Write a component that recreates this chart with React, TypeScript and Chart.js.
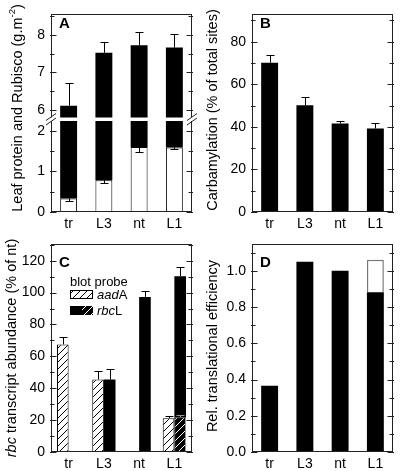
import React, { useEffect, useRef } from 'react';
import { Chart, registerables } from 'chart.js';

Chart.register(...registerables);

// ---------------- data ----------------
const categories = ['tr', 'L3', 'nt', 'L1'];

// Panel A: leaf protein (total) and Rubisco, g.m-2
const leafProtein = [6.12, 7.52, 7.72, 7.66];
const leafProteinErr = [0.59, 0.3, 0.35, 0.37];
const rubisco = [0.33, 0.78, 1.6, 1.59];
const rubiscoErr = [0.05, 0.07, 0.12, 0.04];
const aUpperTicks = [6, 7, 8];
const aUpperMinor = [6.5, 7.5, 8.5];
const aLowerTicks = [0, 1, 2];
const aLowerMinor = [0.5, 1.5];

// Panel B: carbamylation, % of total sites
const carbamylation = [70.1, 50.1, 41.6, 39.2];
const carbamylationErr = [3.7, 3.8, 1.3, 2.7];
const bTicks = [0, 20, 40, 60, 80];
const bMinor = [10, 30, 50, 70, 90];

// Panel C: rbc transcript abundance, % of nt
const aadA = [67.5, 45.5, null, 21.2];
const aadAErr = [4.8, 5.2, null, 1.5];
const rbcL = [null, 45.5, 97.3, 110.3];
const rbcLErr = [null, 6.8, 3.5, 5.5];
const rbcLShared = [null, null, null, 21.8];
const rbcLSharedErr = [null, null, null, 1.3];
const cTicks = [0, 20, 40, 60, 80, 100, 120];
const cMinor = [10, 30, 50, 70, 90, 110, 130];

// Panel D: relative translational efficiency
const translEff = [0.365, 1.05, 1.0, 0.882];
const translEffUpper = [null, null, null, 1.061];
const dTicks = [0, 0.2, 0.4, 0.6, 0.8, 1.0];
const dMinor = [0.1, 0.3, 0.5, 0.7, 0.9, 1.1];

// ---------------- layout ----------------
const W = 400;
const H = 471;
const FONT = "'Liberation Sans', Arial, Helvetica, sans-serif";
const AXIS = '#222';
const TICK_SIZE = 14;
const TITLE_SIZE = 14.5;

type Area = { left: number; right: number; top: number; bottom: number };
type Seg = { t: string; s?: 'i' | 'sup' };
type ErrSpec = { ds: number; vals: (number | null)[]; errs: (number | null)[]; dir: 1 | -1; color?: string };
type Spec = {
  area: Area;
  min: number;
  max: number;
  ticks: number[];
  minor: number[];
  fmt: (v: number) => string;
  datasets: any[];
  showX: boolean;
  xStacked?: boolean;
  catPct: number;
  barPct: number;
  errors: ErrSpec[];
  sides: { top: boolean; bottom: boolean; left: boolean; right: boolean };
  extra?: (ctx: CanvasRenderingContext2D) => void;
};

const areaAUp: Area = { left: 51, right: 192, top: 5, bottom: 117.5 };
const areaALow: Area = { left: 51, right: 192, top: 121, bottom: 212 };
const areaB: Area = { left: 252, right: 393, top: 5, bottom: 212 };
const areaC: Area = { left: 51, right: 192, top: 244, bottom: 452 };
const areaD: Area = { left: 252, right: 393, top: 244, bottom: 452 };

function makeHatch(ctx: CanvasRenderingContext2D, bg: string, fg: string) {
  const n = 7;
  const c = document.createElement('canvas');
  c.width = n;
  c.height = n;
  const g = c.getContext('2d')!;
  g.fillStyle = bg;
  g.fillRect(0, 0, n, n);
  g.strokeStyle = fg;
  g.lineWidth = 1;
  g.beginPath();
  g.moveTo(0, n);
  g.lineTo(n, 0);
  g.moveTo(-n, n);
  g.lineTo(n, -n);
  g.moveTo(0, 2 * n);
  g.lineTo(2 * n, 0);
  g.stroke();
  return ctx.createPattern(c, 'repeat')!;
}

function drawRich(ctx: CanvasRenderingContext2D, segs: Seg[], x: number, y: number, size: number, align: 'left' | 'center') {
  const fontFor = (s: Seg) =>
    s.s === 'i' ? `italic ${size}px ${FONT}` : s.s === 'sup' ? `${size * 0.65}px ${FONT}` : `${size}px ${FONT}`;
  let total = 0;
  for (const s of segs) {
    ctx.font = fontFor(s);
    total += ctx.measureText(s.t).width;
  }
  let cx = align === 'center' ? x - total / 2 : x;
  ctx.textAlign = 'left';
  ctx.textBaseline = 'alphabetic';
  ctx.fillStyle = '#000';
  for (const s of segs) {
    ctx.font = fontFor(s);
    ctx.fillText(s.t, cx, s.s === 'sup' ? y - size * 0.45 : y);
    cx += ctx.measureText(s.t).width;
  }
}

function vTitle(ctx: CanvasRenderingContext2D, segs: Seg[], baseX: number, cy: number) {
  ctx.save();
  ctx.translate(baseX, cy);
  ctx.rotate(-Math.PI / 2);
  drawRich(ctx, segs, 0, 0, TITLE_SIZE, 'center');
  ctx.restore();
}

function letter(ctx: CanvasRenderingContext2D, t: string, a: Area) {
  ctx.font = `bold 15px ${FONT}`;
  ctx.fillStyle = '#000';
  ctx.textAlign = 'left';
  ctx.textBaseline = 'alphabetic';
  ctx.fillText(t, a.left + 8, a.top + 23);
}

function decoPlugin(spec: Spec) {
  return {
    id: 'deco',
    afterDatasetsDraw(chart: any) {
      const ctx: CanvasRenderingContext2D = chart.ctx;
      const ys = chart.scales.y;
      const ca = chart.chartArea;
      ctx.save();
      ctx.lineWidth = 1;
      // error bars
      for (const e of spec.errors) {
        const meta = chart.getDatasetMeta(e.ds);
        e.vals.forEach((v, i) => {
          const er = e.errs[i];
          if (v == null || er == null) return;
          const el = meta.data[i];
          if (!el) return;
          const x = Math.round(el.x) + 0.5;
          const y0 = ys.getPixelForValue(v);
          const y1 = Math.round(ys.getPixelForValue(v + e.dir * er)) + 0.5;
          ctx.strokeStyle = e.color || '#000';
          ctx.beginPath();
          ctx.moveTo(x, y0);
          ctx.lineTo(x, y1);
          ctx.moveTo(x - 4, y1);
          ctx.lineTo(x + 4, y1);
          ctx.stroke();
        });
      }
      // frame
      const L = Math.round(ca.left) + 0.5;
      const R = Math.round(ca.right) - 0.5;
      const T = Math.round(ca.top) + 0.5;
      const B = Math.round(ca.bottom) - 0.5;
      ctx.strokeStyle = AXIS;
      ctx.beginPath();
      if (spec.sides.top) { ctx.moveTo(L - 0.5, T); ctx.lineTo(R + 0.5, T); }
      if (spec.sides.bottom) { ctx.moveTo(L - 0.5, B); ctx.lineTo(R + 0.5, B); }
      if (spec.sides.left) { ctx.moveTo(L, ca.top); ctx.lineTo(L, ca.bottom); }
      if (spec.sides.right) { ctx.moveTo(R, ca.top); ctx.lineTo(R, ca.bottom); }
      ctx.stroke();
      // ticks (inward, both vertical axes)
      const tick = (v: number, len: number) => {
        const yp = ys.getPixelForValue(v);
        if (yp < ca.top - 0.5 || yp > ca.bottom + 0.5) return;
        const y = Math.round(yp) + 0.5;
        ctx.moveTo(L - 1.5, y);
        ctx.lineTo(L + len, y);
        ctx.moveTo(R + 1.5, y);
        ctx.lineTo(R - len, y);
      };
      ctx.beginPath();
      spec.ticks.forEach((v) => tick(v, 5));
      spec.minor.forEach((v) => tick(v, 3));
      ctx.stroke();
      if (spec.extra) spec.extra(ctx);
      ctx.restore();
    },
  };
}

function buildConfig(s: Spec): any {
  const xh = H - s.area.bottom;
  return {
    type: 'bar',
    data: { labels: categories, datasets: s.datasets },
    options: {
      responsive: false,
      animation: false,
      events: [],
      layout: {
        padding: { left: 0, right: W - s.area.right, top: s.area.top, bottom: 0 },
      },
      plugins: { legend: { display: false }, tooltip: { enabled: false }, title: { display: false } },
      datasets: { bar: { categoryPercentage: s.catPct, barPercentage: s.barPct } },
      scales: {
        x: {
          display: true,
          stacked: s.xStacked ?? false,
          offset: true,
          grid: { display: false, drawTicks: false },
          border: { display: false },
          ticks: {
            display: s.showX,
            color: '#000',
            font: { family: FONT, size: TICK_SIZE },
            padding: 4,
            maxRotation: 0,
            autoSkip: false,
          },
          afterFit: (sc: any) => { sc.height = xh; },
        },
        y: {
          min: s.min,
          max: s.max,
          stacked: false,
          grid: { display: false, drawTicks: false },
          border: { display: false },
          ticks: {
            color: '#000',
            font: { family: FONT, size: TICK_SIZE },
            padding: 6,
            autoSkip: false,
            callback: (v: any) => s.fmt(Number(v)),
          },
          afterBuildTicks: (sc: any) => { sc.ticks = s.ticks.map((v) => ({ value: v })); },
          afterFit: (sc: any) => { sc.width = s.area.left; },
        },
      },
    },
    plugins: [decoPlugin(s)],
  };
}

function buildSpecs(hatchWhite: CanvasPattern, hatchBlack: CanvasPattern): Spec[] {
  const all = { top: true, bottom: true, left: true, right: true };
  const totalBars = categories.map((_, i) => [rubisco[i], leafProtein[i]]);

  const aUpper: Spec = {
    area: areaAUp,
    min: 5.808,
    max: 8.539,
    ticks: aUpperTicks,
    minor: aUpperMinor,
    fmt: (v) => String(v),
    showX: false,
    catPct: 1,
    barPct: 0.48,
    datasets: [
      { data: totalBars, backgroundColor: '#000', borderWidth: 0, grouped: false, clip: 0 },
    ],
    errors: [{ ds: 0, vals: leafProtein, errs: leafProteinErr, dir: 1 }],
    sides: { top: true, bottom: false, left: true, right: true },
    extra: (ctx) => letter(ctx, 'A', areaAUp),
  };

  const aLower: Spec = {
    area: areaALow,
    min: 0,
    max: 2.241,
    ticks: aLowerTicks,
    minor: aLowerMinor,
    fmt: (v) => String(v),
    showX: true,
    catPct: 1,
    barPct: 0.48,
    datasets: [
      { data: rubisco, backgroundColor: '#fff', borderColor: '#000', borderWidth: 1, grouped: false, clip: 0 },
      { data: totalBars, backgroundColor: '#000', borderWidth: 0, grouped: false, clip: 0 },
    ],
    errors: [{ ds: 0, vals: rubisco, errs: rubiscoErr, dir: -1 }],
    sides: { top: false, bottom: true, left: true, right: true },
    extra: (ctx) => {
      vTitle(ctx, [{ t: 'Leaf protein and Rubisco (g.m' }, { t: '-2', s: 'sup' }, { t: ')' }], 22, 108);
      // axis break marks
      ctx.strokeStyle = AXIS;
      ctx.lineWidth = 1;
      ctx.beginPath();
      for (const x of [areaALow.left, areaALow.right]) {
        ctx.moveTo(x - 5, 120.5);
        ctx.lineTo(x + 5, 113.5);
        ctx.moveTo(x - 5, 125);
        ctx.lineTo(x + 5, 118);
      }
      ctx.stroke();
    },
  };

  const b: Spec = {
    area: areaB,
    min: 0,
    max: 92.8,
    ticks: bTicks,
    minor: bMinor,
    fmt: (v) => String(v),
    showX: true,
    catPct: 1,
    barPct: 0.48,
    datasets: [{ data: carbamylation, backgroundColor: '#000', borderWidth: 0 }],
    errors: [{ ds: 0, vals: carbamylation, errs: carbamylationErr, dir: 1 }],
    sides: all,
    extra: (ctx) => {
      letter(ctx, 'B', areaB);
      vTitle(ctx, [{ t: 'Carbamylation (% of total sites)' }], 217, 110);
    },
  };

  const c: Spec = {
    area: areaC,
    min: 0,
    max: 130.5,
    ticks: cTicks,
    minor: cMinor,
    fmt: (v) => String(v),
    showX: true,
    xStacked: true,
    catPct: 0.66,
    barPct: 1,
    datasets: [
      { data: aadA, stack: 'aad', backgroundColor: hatchWhite, borderColor: '#000', borderWidth: 1 },
      { data: rbcLShared, stack: 'rbc', backgroundColor: hatchBlack, borderColor: '#999', borderWidth: 1 },
      { data: rbcL, stack: 'rbc', backgroundColor: '#000', borderColor: '#000', borderWidth: 0 },
    ],
    errors: [
      { ds: 0, vals: aadA, errs: aadAErr, dir: 1 },
      { ds: 2, vals: rbcL, errs: rbcLErr, dir: 1 },
      { ds: 1, vals: rbcLShared, errs: rbcLSharedErr, dir: 1, color: '#999' },
    ],
    sides: all,
    extra: (ctx) => {
      letter(ctx, 'C', areaC);
      vTitle(ctx, [{ t: 'rbc', s: 'i' }, { t: ' transcript abundance (% of nt)' }], 16, 348);
      // legend
      ctx.font = `13px ${FONT}`;
      ctx.fillStyle = '#000';
      ctx.textAlign = 'left';
      ctx.textBaseline = 'alphabetic';
      ctx.fillText('blot probe', 70, 286);
      ctx.fillStyle = hatchWhite;
      ctx.fillRect(70, 290, 23, 9);
      ctx.strokeStyle = '#000';
      ctx.lineWidth = 1;
      ctx.strokeRect(70.5, 290.5, 22, 8);
      drawRich(ctx, [{ t: 'aad', s: 'i' }, { t: 'A' }], 97, 299, 13, 'left');
      ctx.fillStyle = '#000';
      ctx.fillRect(70, 306, 23, 9);
      ctx.fillStyle = hatchBlack;
      ctx.fillRect(82, 306, 11, 9);
      drawRich(ctx, [{ t: 'rbc', s: 'i' }, { t: 'L' }], 97, 315, 13, 'left');
    },
  };

  const upperBars = translEffUpper.map((u, i) => (u == null ? null : [translEff[i], u]));
  const d: Spec = {
    area: areaD,
    min: 0,
    max: 1.148,
    ticks: dTicks,
    minor: dMinor,
    fmt: (v) => v.toFixed(1),
    showX: true,
    catPct: 1,
    barPct: 0.48,
    datasets: [
      { data: translEff, backgroundColor: '#000', borderWidth: 0, grouped: false },
      { data: upperBars, backgroundColor: '#fff', borderColor: '#777', borderWidth: 1.5, grouped: false },
    ],
    errors: [],
    sides: all,
    extra: (ctx) => {
      letter(ctx, 'D', areaD);
      vTitle(ctx, [{ t: 'Rel. translational efficiency' }], 217, 346);
    },
  };

  return [aUpper, aLower, b, c, d];
}

export default function App() {
  const r0 = useRef<HTMLCanvasElement>(null);
  const r1 = useRef<HTMLCanvasElement>(null);
  const r2 = useRef<HTMLCanvasElement>(null);
  const r3 = useRef<HTMLCanvasElement>(null);
  const r4 = useRef<HTMLCanvasElement>(null);
  const refs = [r0, r1, r2, r3, r4];

  useEffect(() => {
    const ctx0 = r0.current!.getContext('2d')!;
    const hatchWhite = makeHatch(ctx0, '#fff', '#000');
    const hatchBlack = makeHatch(ctx0, '#000', '#fff');
    const specs = buildSpecs(hatchWhite, hatchBlack);
    const charts = specs.map((s, i) => new Chart(refs[i].current!, buildConfig(s)));
    return () => charts.forEach((ch) => ch.destroy());
  }, []);

  return (
    <div style={{ position: 'fixed', left: 0, top: 0, width: W, height: H, background: '#fff' }}>
      {refs.map((r, i) => (
        <canvas
          key={i}
          ref={r}
          width={W}
          height={H}
          style={{ position: 'absolute', left: 0, top: 0, width: W, height: H }}
        />
      ))}
    </div>
  );
}
